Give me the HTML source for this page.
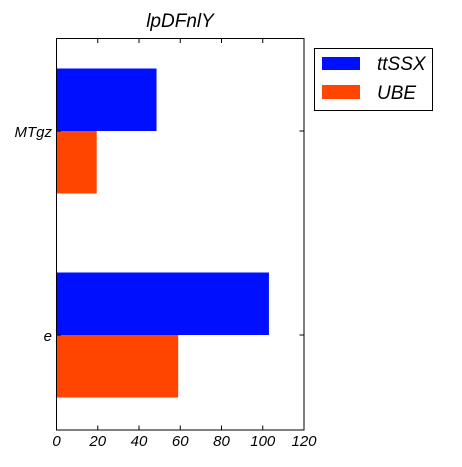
<!DOCTYPE html>
<html><head><meta charset="utf-8"><style>
body{margin:0;background:#fff;}
svg text{font-family:"Liberation Sans",sans-serif;font-style:italic;fill:#000;}
</style></head><body>
<svg id="chart" width="462" height="462">
<rect width="462" height="462" fill="#fff"/>
<text x="180" y="27" font-size="19" text-anchor="middle">lpDFnlY</text>
<g id="bars"></g>
<rect x="56.5" y="38.5" width="247.5" height="391.5" fill="none" stroke="#000" stroke-width="1"/>
<g id="ticks"></g>
<g>
<rect x="314.5" y="48.5" width="118" height="62" fill="#fff" stroke="#000"/>
<rect x="322" y="57" width="38" height="13" fill="#0010ff"/>
<text x="377" y="70" font-size="19">ttSSX</text>
<rect x="322" y="85" width="38" height="14" fill="#ff4500"/>
<text x="377" y="99" font-size="19">UBE</text>
</g>
</svg>
<script>
const categories = ["e", "MTgz"];
const ttSSX = [103, 48.5];
const UBE = [59, 19.5];
const xTicks = [0, 20, 40, 60, 80, 100, 120];
const ns = "http://www.w3.org/2000/svg";
const x = v => 56.5 + v / 120 * 247.5;
const y = p => 335 - p * 204;
const bh = 62.5;
const bars = document.getElementById("bars");
const ticks = document.getElementById("ticks");
function mk(tag, attrs, parent){const e=document.createElementNS(ns,tag);for(const k in attrs)e.setAttribute(k,attrs[k]);parent.appendChild(e);return e;}
categories.forEach((c, i) => {
  const b1 = mk("rect", {x: x(0), y: y(i) - bh, width: x(ttSSX[i]) - x(0), height: bh, fill: "#0010ff"}, bars);
  
  
  const b2 = mk("rect", {x: x(0), y: y(i), width: x(UBE[i]) - x(0), height: bh, fill: "#ff4500"}, bars);
  
  
  const t = mk("text", {x: 52, y: y(i) + 6, "font-size": 15, "text-anchor": "end"}, ticks);
  t.textContent = c;
  
  
  mk("line", {x1: 56.5, x2: 61, y1: y(i), y2: y(i), stroke: "#000"}, ticks);
  mk("line", {x1: 299.5, x2: 304, y1: y(i), y2: y(i), stroke: "#000"}, ticks);
});
xTicks.forEach(v => {
  mk("line", {x1: x(v), x2: x(v), y1: 430, y2: 425.5, stroke: "#000"}, ticks);
  mk("line", {x1: x(v), x2: x(v), y1: 38.5, y2: 43, stroke: "#000"}, ticks);
  const t = mk("text", {x: x(v), y: 446, "font-size": 15, "text-anchor": "middle"}, ticks);
  t.textContent = v;
  
  
});
</script>
</body></html>
